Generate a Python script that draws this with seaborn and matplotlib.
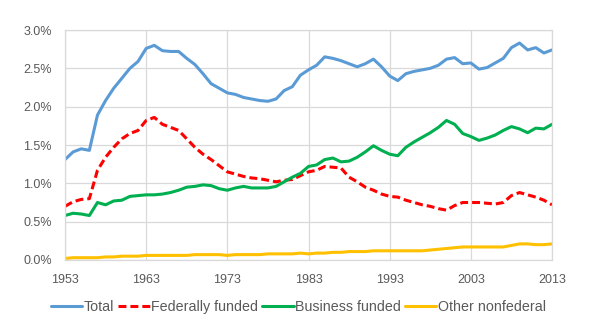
import numpy as np
import pandas as pd
import matplotlib
matplotlib.use("Agg")
import matplotlib.pyplot as plt
import seaborn as sns
from matplotlib.ticker import FuncFormatter
from matplotlib.lines import Line2D

years = list(range(1953, 2014))

total = [1.31, 1.41, 1.45, 1.43, 1.89, 2.08, 2.24, 2.37, 2.50, 2.59,
         2.76, 2.80, 2.73, 2.72, 2.72, 2.63, 2.55, 2.43, 2.30, 2.24,
         2.18, 2.16, 2.12, 2.10, 2.08, 2.07, 2.10, 2.21, 2.26, 2.41,
         2.48, 2.54, 2.65, 2.63, 2.60, 2.56, 2.52, 2.56, 2.62, 2.52,
         2.40, 2.34, 2.43, 2.46, 2.48, 2.50, 2.54, 2.62, 2.64, 2.56,
         2.57, 2.49, 2.51, 2.57, 2.63, 2.77, 2.83, 2.74, 2.77, 2.70,
         2.74]

federal = [0.70, 0.76, 0.79, 0.80, 1.17, 1.34, 1.47, 1.58, 1.65, 1.69,
           1.82, 1.86, 1.77, 1.73, 1.69, 1.58, 1.47, 1.38, 1.31, 1.23,
           1.15, 1.12, 1.09, 1.07, 1.06, 1.04, 1.02, 1.04, 1.05, 1.10,
           1.15, 1.17, 1.22, 1.21, 1.20, 1.08, 1.02, 0.95, 0.91, 0.86,
           0.83, 0.82, 0.78, 0.75, 0.72, 0.70, 0.67, 0.65, 0.71, 0.75,
           0.75, 0.75, 0.74, 0.73, 0.75, 0.84, 0.88, 0.85, 0.82, 0.78,
           0.72]

business = [0.58, 0.61, 0.60, 0.58, 0.75, 0.72, 0.77, 0.78, 0.83, 0.84,
            0.85, 0.85, 0.86, 0.88, 0.91, 0.95, 0.96, 0.98, 0.97, 0.93,
            0.91, 0.94, 0.96, 0.94, 0.94, 0.94, 0.96, 1.02, 1.08, 1.13,
            1.22, 1.24, 1.31, 1.33, 1.28, 1.29, 1.34, 1.41, 1.49, 1.43,
            1.38, 1.36, 1.47, 1.54, 1.60, 1.66, 1.73, 1.82, 1.77, 1.65,
            1.61, 1.56, 1.59, 1.63, 1.69, 1.74, 1.71, 1.66, 1.72, 1.71,
            1.77]

other = [0.02, 0.03, 0.03, 0.03, 0.03, 0.04, 0.04, 0.05, 0.05, 0.05,
         0.06, 0.06, 0.06, 0.06, 0.06, 0.06, 0.07, 0.07, 0.07, 0.07,
         0.06, 0.07, 0.07, 0.07, 0.07, 0.08, 0.08, 0.08, 0.08, 0.09,
         0.08, 0.09, 0.09, 0.10, 0.10, 0.11, 0.11, 0.11, 0.12, 0.12,
         0.12, 0.12, 0.12, 0.12, 0.12, 0.13, 0.14, 0.15, 0.16, 0.17,
         0.17, 0.17, 0.17, 0.17, 0.17, 0.19, 0.21, 0.21, 0.20, 0.20,
         0.21]

series_names = ["Total", "Federally funded", "Business funded", "Other nonfederal"]
colors = ["#5B9BD5", "#FF0000", "#00B050", "#FFC000"]
xticks = [1953, 1963, 1973, 1983, 1993, 2003, 2013]
yticks = [0.0, 0.5, 1.0, 1.5, 2.0, 2.5, 3.0]

df = pd.DataFrame({
    "Year": years * 4,
    "Value": total + federal + business + other,
    "Series": sum([[n] * len(years) for n in series_names], []),
})

sns.set_theme(style="white")
plt.rcParams["font.family"] = ["Liberation Sans", "DejaVu Sans"]

LW = 2.2
DASH = (2.6, 1.3)

fig = plt.figure(figsize=(6.03, 3.28), dpi=100)
ax = fig.add_axes([65 / 603, 1 - 260 / 328, (552 - 65) / 603, (260 - 30) / 328])

sns.lineplot(data=df, x="Year", y="Value", hue="Series", style="Series",
             hue_order=series_names, style_order=series_names,
             palette=colors,
             dashes={"Total": "", "Federally funded": DASH,
                     "Business funded": "", "Other nonfederal": ""},
             linewidth=LW, ax=ax, legend=False)

ax.set_xlim(1953, 2013)
ax.set_ylim(0, 3.0)
ax.set_xticks(xticks)
ax.set_yticks(yticks)
ax.yaxis.set_major_formatter(FuncFormatter(lambda v, p: f"{v:.1f}%"))
ax.grid(True, color="#D9D9D9", linewidth=0.9)
ax.set_axisbelow(True)
for s in ax.spines.values():
    s.set_color("#D9D9D9")
    s.set_linewidth(0.9)
ax.tick_params(axis="both", colors="#595959", labelsize=9, length=0)
ax.tick_params(axis="x", pad=10)
ax.tick_params(axis="y", pad=9.5)
ax.set_xlabel("")
ax.set_ylabel("")

handles = [Line2D([], [], color=colors[0], lw=LW),
           Line2D([], [], color=colors[1], lw=LW, dashes=DASH),
           Line2D([], [], color=colors[2], lw=LW),
           Line2D([], [], color=colors[3], lw=LW)]
leg = fig.legend(handles, series_names, loc="center",
                 bbox_to_anchor=(298.5 / 603, 1 - 307 / 328),
                 ncol=4, frameon=False, fontsize=10.3, handlelength=2.2,
                 handletextpad=0.12, columnspacing=0.26, borderaxespad=0)
for t in leg.get_texts():
    t.set_color("#595959")

fig.savefig("out.png", dpi=100)
